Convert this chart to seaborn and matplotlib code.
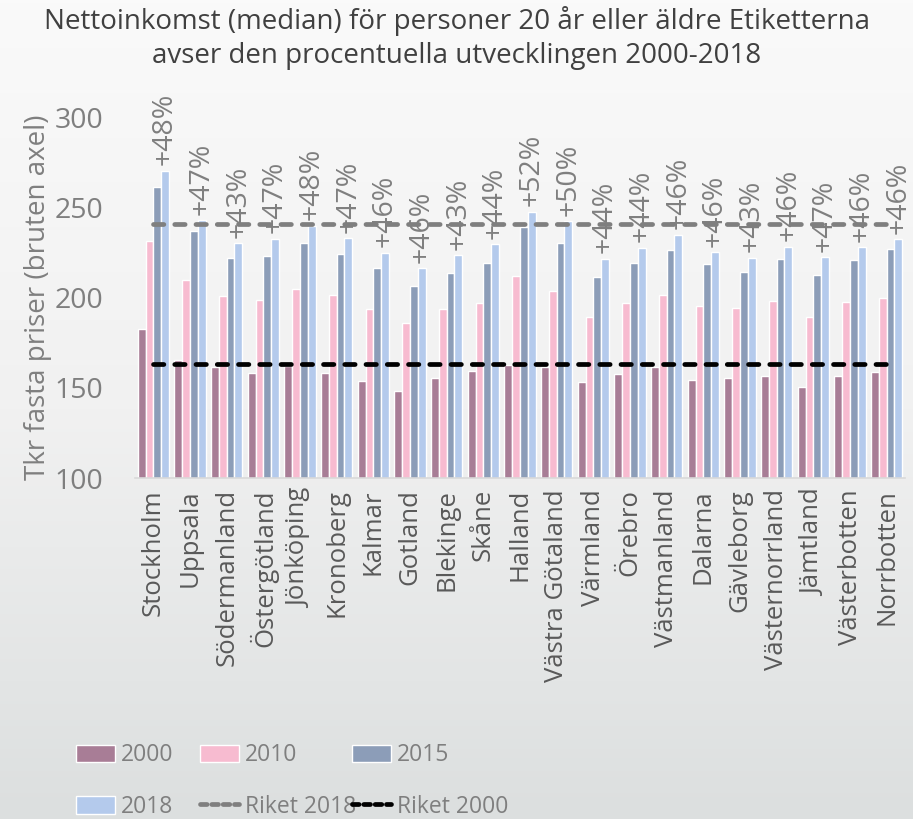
#!/usr/bin/env python3

# Nettoinkomst (median) per län, 2000-2018, med rikets nivåer som streckade linjer.

import seaborn as sns
import matplotlib
matplotlib.use("Agg")
import matplotlib.pyplot as plt
from matplotlib.patches import Patch
from matplotlib.lines import Line2D
import numpy as np
import pandas as pd

lan = ["Stockholm", "Uppsala", "Södermanland", "Östergötland", "Jönköping",
       "Kronoberg", "Kalmar", "Gotland", "Blekinge", "Skåne", "Halland",
       "Västra Götaland", "Värmland", "Örebro", "Västmanland", "Dalarna",
       "Gävleborg", "Västernorrland", "Jämtland", "Västerbotten", "Norrbotten"]

v2000 = [182.5, 165.4, 161.3, 158.0, 162.0, 158.3, 153.7, 148.0, 155.6, 159.4, 162.6,
         161.5, 153.0, 157.6, 161.3, 154.1, 155.2, 156.3, 150.6, 156.3, 158.7]
v2010 = [231.3, 209.7, 200.8, 198.6, 204.7, 201.6, 193.5, 186.0, 193.8, 196.8, 211.9,
         203.8, 189.0, 196.8, 201.6, 195.3, 194.2, 198.1, 189.0, 197.5, 199.9]
v2015 = [261.2, 237.0, 221.9, 223.2, 230.0, 224.1, 216.5, 206.5, 213.4, 219.1, 239.2,
         230.4, 211.2, 219.3, 226.3, 218.4, 214.3, 221.2, 212.6, 220.8, 226.9]
v2018 = [270.1, 242.9, 230.0, 232.4, 239.8, 232.8, 224.7, 216.2, 223.4, 229.5, 247.4,
         242.2, 221.3, 227.4, 234.8, 225.0, 222.1, 228.1, 222.4, 227.8, 232.2]

pct_labels = ["+48%", "+47%", "+43%", "+47%", "+48%", "+47%", "+46%", "+46%", "+43%",
              "+44%", "+52%", "+50%", "+44%", "+44%", "+46%", "+46%", "+43%", "+46%",
              "+47%", "+46%", "+46%"]

riket_2018 = 240.7
riket_2000 = 163.0

years = ["2000", "2010", "2015", "2018"]
colors = ["#A87D96", "#F7BBD0", "#8C9DB8", "#B4CAEC"]

FONT = ["Open Sans", "DejaVu Sans"]
GREY = "#7F7F7F"

df = pd.DataFrame({
    "lan": lan * 4,
    "ar": sum([[y] * len(lan) for y in years], []),
    "varde": v2000 + v2010 + v2015 + v2018,
})

sns.set_style("white")
plt.rcParams["font.family"] = FONT

fig = plt.figure(figsize=(9.13, 8.19), dpi=100)

# bakgrund: svag gradient från ljust upptill till grått nedtill
bg = fig.add_axes([0, 0, 1, 1], zorder=-10)
grad = np.linspace(0, 1, 256).reshape(-1, 1)
bg.imshow(grad, aspect="auto", cmap=matplotlib.colors.LinearSegmentedColormap.from_list(
    "bg", ["#FAFAFA", "#F1F1F1", "#DCDFDF"]), extent=[0, 1, 0, 1])
bg.axis("off")

ax = fig.add_axes([135 / 913, 1 - 478 / 819, 770 / 913, 361 / 819])
ax.patch.set_alpha(0)

sns.barplot(data=df, x="lan", y="varde", hue="ar", palette=colors, order=lan,
            hue_order=years, width=0.85, gap=0, errorbar=None, legend=False,
            saturation=1, ax=ax)

ax.bar_label(ax.containers[3], labels=pct_labels, rotation=90, padding=4,
             fontsize=20.5, color=GREY, family=FONT)

xs = np.arange(len(lan))
sns.lineplot(x=xs, y=np.full(len(lan), riket_2018), color="#7F7F7F", lw=3.4,
             dashes=False, ax=ax, zorder=5)
sns.lineplot(x=xs, y=np.full(len(lan), riket_2000), color="black", lw=3.4,
             dashes=False, ax=ax, zorder=5)
for ln in ax.lines:
    ln.set_dashes((2.2, 2.3))
    ln.set_dash_capstyle("round")

ax.set_ylim(100, 300)
ax.set_xlim(-0.5, len(lan) - 0.5)
ax.set_yticks([100, 150, 200, 250, 300])
ax.set_xlabel("")
ax.set_ylabel("Tkr fasta priser (bruten axel)", fontsize=20, color=GREY, labelpad=2)
ax.tick_params(axis="y", length=0, labelsize=20.5, labelcolor=GREY, pad=23)
ax.tick_params(axis="x", length=0, labelsize=18.5, labelcolor="#595959", pad=8)
plt.setp(ax.get_xticklabels(), rotation=90)
for s in ["top", "right", "left"]:
    ax.spines[s].set_visible(False)
ax.spines["bottom"].set_color("#D9D9D9")
ax.spines["bottom"].set_linewidth(1.2)

fig.suptitle("Nettoinkomst (median) för personer 20 år eller äldre Etiketterna\n"
             "avser den procentuella utvecklingen 2000-2018",
             x=0.5, y=0.993, fontsize=20, color="#404040", linespacing=1.3)

# förklaring i tre kolumner, placerade som i originalet
patches = [Patch(facecolor=c, label=y) for c, y in zip(colors, years)]
l18 = Line2D([], [], color="#7F7F7F", lw=3.4, dashes=(1.4, 1.0),
             dash_capstyle="round", label="Riket 2018")
l00 = Line2D([], [], color="black", lw=3.4, dashes=(1.4, 1.0),
             dash_capstyle="round", label="Riket 2000")
cols = [[patches[0], patches[3]], [patches[1], l18], [patches[2], l00]]
col_x = [74, 198, 350]
for x0, hs in zip(col_x, cols):
    leg = fig.legend(handles=hs, loc="upper left",
                     bbox_to_anchor=(x0 / 913, 1 - 741 / 819),
                     frameon=False, fontsize=16.5,
                     handlelength=1.7, handleheight=0.8,
                     handletextpad=0.25, labelspacing=1.2,
                     borderaxespad=0, borderpad=0.1)
    for t in leg.get_texts():
        t.set_color(GREY)

fig.savefig("out.png", dpi=100)
plt.close(fig)
